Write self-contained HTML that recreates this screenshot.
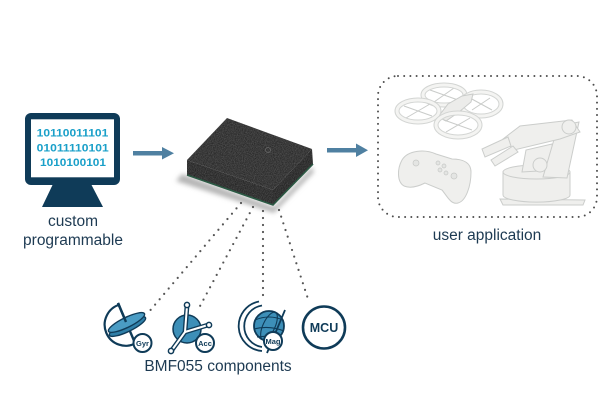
<!DOCTYPE html>
<html><head><meta charset="utf-8"><style>
html,body{margin:0;padding:0;background:#fff;}
svg{display:block;}
text{font-family:"Liberation Sans",Arial,sans-serif;}
</style></head><body>
<svg width="612" height="412" viewBox="0 0 612 412" xmlns="http://www.w3.org/2000/svg">
<defs>
<filter id="nz" x="0" y="0" width="1" height="1" color-interpolation-filters="sRGB">
<feTurbulence type="fractalNoise" baseFrequency="1.1" numOctaves="2" seed="3" result="t"/>
<feColorMatrix in="t" type="matrix" values="0.3 0 0 0 0.08  0.3 0 0 0 0.08  0.3 0 0 0 0.08  0 0 0 0 1" result="g"/>
<feComposite in="g" in2="SourceGraphic" operator="in"/>
</filter>
<filter id="bl" x="-20%" y="-50%" width="140%" height="200%"><feGaussianBlur stdDeviation="2.5"/></filter>
</defs>
<rect width="612" height="412" fill="#fff"/>

<!-- Monitor -->
<rect x="25" y="113" width="95" height="72" rx="6" fill="#0f3b58"/>
<rect x="31" y="119.3" width="83" height="58" fill="#fff"/>
<polygon points="53,184 91,184 103,207 42,207" fill="#0f3b58"/>
<g font-weight="bold" font-size="10.8" fill="#1aa0c9">
<text x="36.7" y="136.5" textLength="71.6" lengthAdjust="spacingAndGlyphs">10110011101</text>
<text x="36.7" y="151.5" textLength="72" lengthAdjust="spacingAndGlyphs">01011110101</text>
<text x="40" y="166" textLength="66" lengthAdjust="spacingAndGlyphs">1010100101</text>
</g>
<g font-size="15.5" fill="#1d3a52" text-anchor="middle">
<text x="73" y="226">custom</text>
<text x="73" y="245">programmable</text>
</g>

<!-- Arrow 1 -->
<rect x="133" y="151" width="32" height="4.5" fill="#4f80a1"/>
<polygon points="162,147 174,153.2 162,159.5" fill="#4f80a1"/>
<!-- Arrow 2 -->
<rect x="327" y="148" width="32" height="4.5" fill="#4f80a1"/>
<polygon points="356,143.5 368,150.2 356,157" fill="#4f80a1"/>

<!-- Chip shadow -->
<polygon points="182,174 274,207 312,167 314,172 274,213 176,181" fill="#b5b5b5" filter="url(#bl)"/>
<!-- Chip -->
<g filter="url(#nz)">
<polygon points="187,160 227,118 312,149 273,190" fill="#444"/>
<polygon points="187,160 273,190 273,205 187,175" fill="#444"/>
<polygon points="273,190 312,149 313,164 273,205" fill="#444"/>
</g>
<polygon points="187,160 273,190 273,205 187,175" fill="rgba(0,0,0,0.08)"/>
<polygon points="273,190 312,149 313,164 273,205" fill="rgba(0,0,0,0.12)"/>
<polyline points="187,175 273,205 313,164" fill="none" stroke="#2b5a44" stroke-width="1.6"/>
<circle cx="268" cy="150" r="2.5" fill="none" stroke="#6a6a6a" stroke-width="0.7"/>

<!-- Dotted connectors -->
<g stroke="#555" stroke-width="2.2" stroke-linecap="round" stroke-dasharray="0 7" fill="none">
<line x1="241" y1="203" x2="148" y2="313"/>
<line x1="253" y1="207" x2="199" y2="308"/>
<line x1="263" y1="211" x2="263" y2="301"/>
<line x1="279" y1="210" x2="309" y2="302"/>
</g>

<!-- Gyr icon -->
<g stroke="#0f3b58" fill="none">
<path d="M120,304.5 A21,21 0 1 0 136,343" stroke-width="2.2"/>
<line x1="118" y1="303" x2="135" y2="343" stroke-width="2.4"/>
</g>
<ellipse cx="127.5" cy="326.5" rx="20" ry="5" transform="rotate(-26 127.5 326.5)" fill="#2f7fa8" stroke="#0f3b58" stroke-width="1.4"/>
<ellipse cx="126.5" cy="322.5" rx="20" ry="5" transform="rotate(-26 126.5 322.5)" fill="#4a9cc4" stroke="#0f3b58" stroke-width="1.4"/>
<line x1="118" y1="303" x2="126" y2="322" stroke="#0f3b58" stroke-width="2.4"/>
<circle cx="142.5" cy="343" r="9" fill="#fff" stroke="#0f3b58" stroke-width="2"/>
<text x="142.5" y="346" font-size="7.5" font-weight="bold" fill="#0f3b58" text-anchor="middle">Gyr</text>

<!-- Acc icon -->
<circle cx="187" cy="329" r="14" fill="#3d8fb8" stroke="#0f3b58" stroke-width="1.5"/>
<g stroke="#0f3b58" stroke-width="4.8" stroke-linecap="round">
<line x1="185" y1="332" x2="187" y2="306"/>
<line x1="185" y1="332" x2="208" y2="325"/>
<line x1="185" y1="332" x2="172" y2="350"/>
</g>
<g stroke="#fff" stroke-width="2" stroke-linecap="round">
<line x1="185" y1="332" x2="187" y2="306"/>
<line x1="185" y1="332" x2="208" y2="325"/>
<line x1="185" y1="332" x2="172" y2="350"/>
</g>
<g fill="#fff" stroke="#0f3b58" stroke-width="1.5">
<circle cx="187" cy="305" r="2.6"/>
<circle cx="209" cy="325" r="2.6"/>
<circle cx="171" cy="351" r="2.6"/>
</g>
<circle cx="205" cy="343" r="9" fill="#fff" stroke="#0f3b58" stroke-width="2"/>
<text x="205" y="346" font-size="7.5" font-weight="bold" fill="#0f3b58" text-anchor="middle">Acc</text>

<!-- Mag icon -->
<g fill="none" stroke="#0f3b58" stroke-width="1.8">
<path d="M259,301.5 A25,25 0 0 0 262,351"/>
<path d="M262,305.5 A21,21 0 0 0 262,347"/>
</g>
<circle cx="269" cy="326" r="15" fill="#3d8fb8" stroke="#0f3b58" stroke-width="1.8"/>
<g fill="none" stroke="#0f3b58" stroke-width="1.1">
<ellipse cx="269" cy="326" rx="6" ry="15" transform="rotate(25 269 326)"/>
<path d="M255,320 Q269,314 283,320"/>
<path d="M254,329 Q269,325 284,331"/>
<path d="M257,337 Q269,335 280,340"/>
</g>
<line x1="285" y1="310" x2="267" y2="353" stroke="#0f3b58" stroke-width="1.8"/>
<circle cx="273" cy="341" r="9" fill="#fff" stroke="#0f3b58" stroke-width="2"/>
<text x="273" y="344" font-size="7.5" font-weight="bold" fill="#0f3b58" text-anchor="middle">Mag</text>

<!-- MCU -->
<circle cx="324" cy="327.5" r="21" fill="#fff" stroke="#0f3b58" stroke-width="2.6"/>
<text x="324" y="332" font-size="12.5" font-weight="bold" fill="#0f3b58" text-anchor="middle">MCU</text>

<text x="218" y="371" font-size="15.5" fill="#1d3a52" text-anchor="middle">BMF055 components</text>

<!-- User application box -->
<rect x="378" y="76" width="219" height="141" rx="20" fill="none" stroke="#4d4d4d" stroke-width="2" stroke-linecap="round" stroke-dasharray="0 6.2"/>

<!-- Drone -->
<g fill="none">
<g stroke="#c9cbc9" stroke-width="1">
<line x1="430" y1="90" x2="458" y2="100"/><line x1="434" y1="102" x2="454" y2="88"/>
<line x1="470" y1="98" x2="492" y2="110"/><line x1="472" y1="110" x2="490" y2="98"/>
</g>
<ellipse cx="444" cy="95" rx="21" ry="10" stroke="#d3d5d3" stroke-width="5"/>
<ellipse cx="444" cy="95" rx="21" ry="10" stroke="#f4f4f2" stroke-width="3"/>
<ellipse cx="481" cy="104" rx="20" ry="12" stroke="#d3d5d3" stroke-width="5"/>
<ellipse cx="481" cy="104" rx="20" ry="12" stroke="#f4f4f2" stroke-width="3"/>
</g>
<path d="M438,117 L448,104 L462,96 L473,94 L471,102 L459,112 L446,121 Z" fill="#ececea" stroke="#cacccA" stroke-width="1"/>
<g fill="none">
<g stroke="#c9cbc9" stroke-width="1">
<line x1="404" y1="106" x2="432" y2="116"/><line x1="406" y1="118" x2="430" y2="104"/>
<line x1="444" y1="120" x2="472" y2="130"/><line x1="446" y1="132" x2="470" y2="118"/>
</g>
<ellipse cx="418" cy="111" rx="21" ry="11" stroke="#d3d5d3" stroke-width="5"/>
<ellipse cx="418" cy="111" rx="21" ry="11" stroke="#f4f4f2" stroke-width="3"/>
<ellipse cx="458" cy="125" rx="22" ry="12" stroke="#d3d5d3" stroke-width="5"/>
<ellipse cx="458" cy="125" rx="22" ry="12" stroke="#f4f4f2" stroke-width="3"/>
</g>

<!-- Gamepad -->
<path d="M402,160 C408,150 425,149 436,154 L452,159 C462,159 471,162 471,172 C471,186 466,201 458,203 C451,205 447,196 442,190 L425,183 C419,186 411,189 404,186 C397,182 397,169 402,160 Z" fill="#efefed" stroke="#cbcdcb" stroke-width="1"/>
<g fill="#e4e5e3" stroke="#c6c8c6" stroke-width="0.7">
<circle cx="416" cy="163" r="3"/><circle cx="438" cy="163" r="2"/><circle cx="444" cy="166" r="2"/>
<circle cx="440" cy="170" r="2"/><circle cx="446" cy="173" r="2"/><circle cx="454" cy="176" r="3"/>
</g>

<!-- Robot arm -->
<g fill="#efefed" stroke="#cbcdcb" stroke-width="1">
<path d="M500,199 L585,200 L583,205 L503,205 Z"/>
<path d="M503,172 L503,195 A33,7 0 0 0 570,195 L570,172 Z"/>
<ellipse cx="536.5" cy="172" rx="33.5" ry="7"/>
<path d="M522,172 L526,150 L552,144 L556,170 Z"/>
<path d="M543,177 L558,126 L579,122 L567,178 Z"/>
<path d="M572,120 L520,126 L503,139 L514,150 L560,139 L580,132 Z"/>
<path d="M508,137 L482,149 L485,157 L511,146 Z"/>
<path d="M513,146 L491,160 L495,166 L518,152 Z"/>
<circle cx="569" cy="127" r="7"/>
<circle cx="540" cy="165" r="7"/>
</g>
<text x="487" y="240" font-size="15.5" fill="#1d3a52" text-anchor="middle">user application</text>
</svg>
</body></html>
